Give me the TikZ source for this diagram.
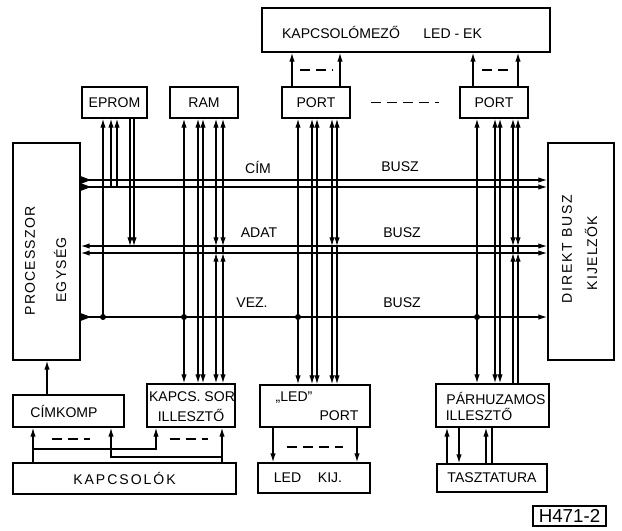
\documentclass[tikz,border=0pt]{standalone}
\usepackage{fontspec}
\setmainfont{Liberation Sans}
\usetikzlibrary{arrows.meta}

\begin{document}
\begin{tikzpicture}[x=0.3mm, y=-0.3mm,
  font=\fontsize{12}{14}\selectfont,
  >={Latex[length=2.6mm,width=1.6mm]},
  blk/.style={draw, line width=1.6pt, inner sep=0pt},
  wire/.style={line width=0.9pt},
  dsh/.style={line width=0.9pt, dash pattern=on 3mm off 1.8mm},
  wedge/.style={{Triangle[reversed,length=3mm,width=2.2mm]}->}]
\useasboundingbox (0,0) rectangle (622,530);

% boxes
\node[blk, minimum width=86.4mm, minimum height=13.2mm] (mezo) at (406,30) {};
\node (mezol) at (382,32) {KAPCSOLÓMEZŐ\hspace{7mm}LED - EK};
\node[blk, minimum width=19.5mm, minimum height=9.3mm] (eprom) at (114.5,102.5) {EPROM};
\node[blk, minimum width=20.4mm, minimum height=9.3mm] (ram) at (204,102.5) {RAM};
\node[blk, minimum width=20.4mm, minimum height=9.3mm] (porta) at (316,102.5) {PORT};
\node[blk, minimum width=20.4mm, minimum height=9.3mm] (portb) at (494,102.5) {PORT};
\node[blk, minimum width=20.1mm, minimum height=65.1mm] (proc) at (46.5,251.5) {};
\node[rotate=90] (procl1) at (30,261) {\addfontfeatures{LetterSpace=8}PROCESSZOR};
\node[rotate=90] (procl2) at (60,270) {\addfontfeatures{LetterSpace=8}EGYSÉG};
\node[blk, minimum width=19.8mm, minimum height=65.1mm] (dir) at (581,251.5) {};
\node[rotate=90] (dirl1) at (567,249) {\addfontfeatures{LetterSpace=12}DIREKT BUSZ};
\node[rotate=90] (dirl2) at (591,253) {\addfontfeatures{LetterSpace=8}KIJELZŐK};
\node[blk, minimum width=33.3mm, minimum height=9.6mm] (cimkomp) at (68.5,411) {};
\node (cimkompl) at (64,411) {CÍMKOMP};
\node[blk, minimum width=26.4mm, minimum height=12.9mm] (ksor) at (191,405.5) {};
\node (ksorl1) at (192,397) {KAPCS. SOR};
\node (ksorl2) at (191,415) {ILLESZTŐ};
\node[blk, minimum width=33mm, minimum height=12.6mm] (ledport) at (315,406) {};
\node (ledportl1) at (294,398) {„LED”};
\node (ledportl2) at (339,416) {PORT};
\node[blk, minimum width=33.9mm, minimum height=12.9mm] (parh) at (492.5,405.5) {};
\node (parhl1) at (496,398) {PÁRHUZAMOS};
\node (parhl2) at (479,414) {ILLESZTŐ};
\node[blk, minimum width=66.9mm, minimum height=9.3mm] (kapcs) at (124.5,478.5) {\addfontfeatures{LetterSpace=14}KAPCSOLÓK};
\node[blk, minimum width=33.6mm, minimum height=9mm] (ledkij) at (314,478) {};
\node (ledkijl) at (308,478) {LED\hspace{5mm}KIJ.};
\node[blk, minimum width=33mm, minimum height=8.4mm] (tasz) at (492,478) {TASZTATURA};
\node[draw, line width=1pt, inner sep=0pt, minimum width=21.9mm, minimum height=6mm,
  font=\fontsize{16}{18}\selectfont] (hno) at (569.5,516) {H471-2};

% buses
\coordinate (cimT) at (0,180);
\coordinate (cimB) at (0,187);
\coordinate (adatT) at (0,246);
\coordinate (adatB) at (0,253);
\coordinate (vez) at (0,317);
\draw[wire,wedge] (proc.east |- cimT) -- (dir.west |- cimT);
\draw[wire,wedge] (proc.east |- cimB) -- (dir.west |- cimB);
\draw[wire,<->] (proc.east |- adatT) -- (dir.west |- adatT);
\draw[wire,<->] (proc.east |- adatB) -- (dir.west |- adatB);
\draw[wire,wedge] (proc.east |- vez) -- (dir.west |- vez);
\node (ciml) at (258,167) {CÍM};
\node (busz1) at (400,167) {BUSZ};
\node (adatl) at (259,233) {ADAT};
\node (busz2) at (402,233) {BUSZ};
\node (vezl) at (252,303) {VEZ.};
\node (busz3) at (402,303) {BUSZ};

% columns
\coordinate (e1) at (103,0); \coordinate (e2) at (111,0); \coordinate (e3) at (117,0);
\coordinate (e4) at (130,0); \coordinate (e5) at (134,0);
\coordinate (r1) at (184,0); \coordinate (r2) at (198,0); \coordinate (r3) at (203,0);
\coordinate (r4) at (216,0); \coordinate (r5) at (223,0);
\coordinate (p1) at (298,0); \coordinate (p2) at (312,0); \coordinate (p3) at (317,0);
\coordinate (p4) at (332,0); \coordinate (p5) at (337,0);
\coordinate (q1) at (477,0); \coordinate (q2) at (495,0); \coordinate (q3) at (500,0);
\coordinate (q4) at (513,0); \coordinate (q5) at (518,0);
\coordinate (m1) at (292,0); \coordinate (m2) at (340,0);
\coordinate (m3) at (473,0); \coordinate (m4) at (518,0);
\coordinate (k1) at (33,0); \coordinate (k2) at (111,0);
\coordinate (k3) at (156,0); \coordinate (k4) at (222,0);
\coordinate (c0) at (47,0);
\coordinate (l1) at (273,0); \coordinate (l2) at (357,0);
\coordinate (t1) at (447,0); \coordinate (t2) at (459,0);
\coordinate (t3) at (486,0); \coordinate (t4) at (492,0);
\coordinate (br1) at (0,449); \coordinate (br2) at (0,457);

% eprom
\draw[wire,->] (e1 |- vez) -- (e1 |- eprom.south);
\draw[wire,->] (e2 |- cimB) -- (e2 |- eprom.south);
\draw[wire,->] (e3 |- cimB) -- (e3 |- eprom.south);
\draw[wire,->] (e4 |- eprom.south) -- (e4 |- adatT);
\draw[wire,->] (e5 |- eprom.south) -- (e5 |- adatT);

% ram - kapcs. sor
\draw[wire,<->] (r1 |- ram.south) -- (r1 |- ksor.north);
\draw[wire,<->] (r2 |- ram.south) -- (r2 |- ksor.north);
\draw[wire,<->] (r3 |- ram.south) -- (r3 |- ksor.north);
\draw[wire,<->] (r4 |- ram.south) -- (r4 |- adatT);
\draw[wire] (r4 |- adatT) -- (r4 |- adatB);
\draw[wire,<->] (r4 |- adatB) -- (r4 |- ksor.north);
\draw[wire,<->] (r5 |- ram.south) -- (r5 |- adatT);
\draw[wire] (r5 |- adatT) -- (r5 |- adatB);
\draw[wire,<->] (r5 |- adatB) -- (r5 |- ksor.north);

% port - led port
\draw[wire,<->] (p1 |- porta.south) -- (p1 |- ledport.north);
\draw[wire,<->] (p2 |- porta.south) -- (p2 |- ledport.north);
\draw[wire,<->] (p3 |- porta.south) -- (p3 |- ledport.north);
\draw[wire,<->] (p4 |- porta.south) -- (p4 |- adatT);
\draw[wire,->] (p4 |- adatT) -- (p4 |- ledport.north);
\draw[wire,<->] (p5 |- porta.south) -- (p5 |- adatT);
\draw[wire,->] (p5 |- adatT) -- (p5 |- ledport.north);

% port - parhuzamos
\draw[wire,<->] (q1 |- portb.south) -- (q1 |- parh.north);
\draw[wire,<->] (q2 |- portb.south) -- (q2 |- parh.north);
\draw[wire,<->] (q3 |- portb.south) -- (q3 |- parh.north);
\draw[wire,<->] (q4 |- portb.south) -- (q4 |- adatT);
\draw[wire] (q4 |- adatT) -- (q4 |- adatB);
\draw[wire,<-] (q4 |- adatB) -- (q4 |- parh.north);
\draw[wire,<->] (q5 |- portb.south) -- (q5 |- adatT);
\draw[wire] (q5 |- adatT) -- (q5 |- adatB);
\draw[wire,<-] (q5 |- adatB) -- (q5 |- parh.north);

\fill (e1 |- vez) circle (0.9mm);
\fill (r1 |- vez) circle (0.9mm);
\fill (p1 |- vez) circle (0.9mm);
\fill (q1 |- vez) circle (0.9mm);

% led-ek
\draw[wire,->] (m1 |- porta.north) -- (m1 |- mezo.south);
\draw[wire,->] (m2 |- porta.north) -- (m2 |- mezo.south);
\draw[wire,->] (m3 |- portb.north) -- (m3 |- mezo.south);
\draw[wire,->] (m4 |- portb.north) -- (m4 |- mezo.south);

% bottom row
\draw[wire,->] (c0 |- cimkomp.north) -- (c0 |- proc.south);
\draw[wire,->] (k1 |- kapcs.north) -- (k1 |- cimkomp.south);
\draw[wire,->] (k1 |- br1) -| (k3 |- ksor.south);
\draw[wire,->] (k4 |- kapcs.north) -- (k4 |- ksor.south);
\draw[wire,->] (k4 |- br2) -| (k2 |- cimkomp.south);
\draw[wire,->] (l1 |- ledport.south) -- (l1 |- ledkij.north);
\draw[wire,->] (l2 |- ledport.south) -- (l2 |- ledkij.north);
\draw[wire,->] (t1 |- tasz.north) -- (t1 |- parh.south);
\draw[wire,->] (t2 |- parh.south) -- (t2 |- tasz.north);
\draw[wire,->] (t3 |- tasz.north) -- (t3 |- parh.south);
\draw[wire] (t4 |- tasz.north) -- (t4 |- parh.south);

% dashes
\coordinate (d1a) at (300,70); \coordinate (d1b) at (333,70);
\coordinate (d2a) at (482,70); \coordinate (d2b) at (510,70);
\coordinate (d3a) at (52,439); \coordinate (d3b) at (90,439);
\coordinate (d4a) at (170,439); \coordinate (d4b) at (208,439);
\coordinate (d5a) at (287,447); \coordinate (d5b) at (343,447);
\draw[dsh] (d1a) -- (d1b);
\draw[dsh] (d2a) -- (d2b);
\draw[dsh] (d3a) -- (d3b);
\draw[dsh] (d4a) -- (d4b);
\draw[dsh] (d5a) -- (d5b);
\draw[dsh] ([xshift=6mm]porta.east) -- ([xshift=-6mm]portb.west);
\end{tikzpicture}
\end{document}
